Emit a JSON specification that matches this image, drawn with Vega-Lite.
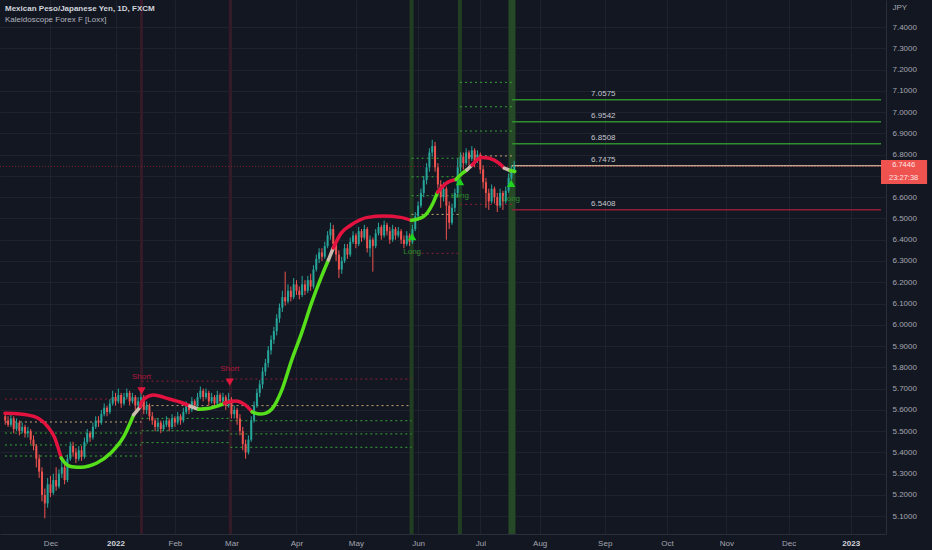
{
  "$schema": "https://vega.github.io/schema/vega-lite/v6.json",
  "width": 886,
  "height": 534,
  "autosize": {"type": "none"},
  "padding": {"left": 0, "top": 0, "right": 46, "bottom": 16},
  "background": "#131722",
  "title": {
    "text": "Mexican Peso/Japanese Yen, 1D, FXCM",
    "subtitle": "Kaleidoscope Forex F [Loxx]",
    "anchor": "start", "frame": "group", "orient": "top", "offset": -27, "dx": 5,
    "font": "Liberation Sans", "fontSize": 8, "fontWeight": "bold", "color": "#d1d4dc",
    "subtitleFont": "Liberation Sans", "subtitleFontSize": 8, "subtitleColor": "#b2b5be", "subtitlePadding": 3
  },
  "resolve": {"scale": {"color": "independent", "shape": "independent"}},
  "config": {
    "view": {"stroke": null},
    "axis": {"labelFont": "Liberation Sans", "titleFont": "Liberation Sans", "labelOverlap": false, "labelBound": false}
  },
  "datasets": {
    "candles": [
      {"i":-16,"o":5.57,"h":5.58,"l":5.53,"c":5.55},{"i":-15,"o":5.55,"h":5.57,"l":5.52,"c":5.53},{"i":-14,"o":5.53,"h":5.58,"l":5.52,"c":5.56},{"i":-13,"o":5.56,"h":5.57,"l":5.49,"c":5.51},
      {"i":-12,"o":5.51,"h":5.56,"l":5.50,"c":5.54},{"i":-11,"o":5.54,"h":5.55,"l":5.48,"c":5.50},{"i":-10,"o":5.50,"h":5.54,"l":5.49,"c":5.52},{"i":-9,"o":5.52,"h":5.53,"l":5.47,"c":5.49},
      {"i":-8,"o":5.49,"h":5.52,"l":5.47,"c":5.50},{"i":-7,"o":5.50,"h":5.51,"l":5.44,"c":5.46},{"i":-6,"o":5.46,"h":5.48,"l":5.41,"c":5.43},{"i":-5,"o":5.43,"h":5.44,"l":5.33,"c":5.37},
      {"i":-4,"o":5.37,"h":5.39,"l":5.28,"c":5.31},{"i":-3,"o":5.31,"h":5.33,"l":5.17,"c":5.20},{"i":-2,"o":5.20,"h":5.23,"l":5.09,"c":5.16},{"i":-1,"o":5.16,"h":5.28,"l":5.14,"c":5.25},
      {"i":0,"o":5.25,"h":5.29,"l":5.19,"c":5.21},{"i":1,"o":5.21,"h":5.30,"l":5.20,"c":5.27},{"i":2,"o":5.27,"h":5.33,"l":5.22,"c":5.24},{"i":3,"o":5.24,"h":5.32,"l":5.23,"c":5.30},
      {"i":4,"o":5.30,"h":5.36,"l":5.28,"c":5.33},{"i":5,"o":5.33,"h":5.35,"l":5.25,"c":5.27},{"i":6,"o":5.27,"h":5.39,"l":5.26,"c":5.37},{"i":7,"o":5.37,"h":5.45,"l":5.36,"c":5.43},
      {"i":8,"o":5.43,"h":5.45,"l":5.38,"c":5.40},{"i":9,"o":5.40,"h":5.42,"l":5.35,"c":5.37},{"i":10,"o":5.37,"h":5.43,"l":5.36,"c":5.41},{"i":11,"o":5.41,"h":5.43,"l":5.36,"c":5.38},
      {"i":12,"o":5.38,"h":5.47,"l":5.37,"c":5.45},{"i":13,"o":5.45,"h":5.51,"l":5.44,"c":5.49},{"i":14,"o":5.49,"h":5.50,"l":5.45,"c":5.47},{"i":15,"o":5.47,"h":5.54,"l":5.46,"c":5.52},
      {"i":16,"o":5.52,"h":5.57,"l":5.51,"c":5.55},{"i":17,"o":5.55,"h":5.57,"l":5.52,"c":5.54},{"i":18,"o":5.54,"h":5.60,"l":5.53,"c":5.58},{"i":19,"o":5.58,"h":5.63,"l":5.57,"c":5.61},
      {"i":20,"o":5.61,"h":5.62,"l":5.57,"c":5.59},{"i":21,"o":5.59,"h":5.65,"l":5.58,"c":5.63},{"i":22,"o":5.63,"h":5.69,"l":5.62,"c":5.66},{"i":23,"o":5.66,"h":5.68,"l":5.62,"c":5.64},
      {"i":24,"o":5.64,"h":5.70,"l":5.63,"c":5.67},{"i":25,"o":5.67,"h":5.68,"l":5.61,"c":5.63},{"i":26,"o":5.63,"h":5.68,"l":5.62,"c":5.66},{"i":27,"o":5.66,"h":5.70,"l":5.65,"c":5.68},
      {"i":28,"o":5.68,"h":5.69,"l":5.62,"c":5.64},{"i":29,"o":5.64,"h":5.68,"l":5.63,"c":5.66},{"i":30,"o":5.66,"h":5.67,"l":5.60,"c":5.62},{"i":31,"o":5.62,"h":5.66,"l":5.61,"c":5.64},
      {"i":32,"o":5.64,"h":5.68,"l":5.62,"c":5.66},{"i":33,"o":5.66,"h":5.67,"l":5.58,"c":5.60},{"i":34,"o":5.60,"h":5.64,"l":5.58,"c":5.62},{"i":35,"o":5.62,"h":5.63,"l":5.55,"c":5.57},
      {"i":36,"o":5.57,"h":5.59,"l":5.53,"c":5.55},{"i":37,"o":5.55,"h":5.56,"l":5.50,"c":5.52},{"i":38,"o":5.52,"h":5.56,"l":5.50,"c":5.54},{"i":39,"o":5.54,"h":5.55,"l":5.49,"c":5.51},
      {"i":40,"o":5.51,"h":5.55,"l":5.50,"c":5.53},{"i":41,"o":5.53,"h":5.57,"l":5.52,"c":5.55},{"i":42,"o":5.55,"h":5.56,"l":5.50,"c":5.52},{"i":43,"o":5.52,"h":5.58,"l":5.51,"c":5.56},
      {"i":44,"o":5.56,"h":5.57,"l":5.52,"c":5.54},{"i":45,"o":5.54,"h":5.59,"l":5.53,"c":5.57},{"i":46,"o":5.57,"h":5.58,"l":5.53,"c":5.55},{"i":47,"o":5.55,"h":5.61,"l":5.54,"c":5.59},
      {"i":48,"o":5.59,"h":5.64,"l":5.58,"c":5.62},{"i":49,"o":5.62,"h":5.63,"l":5.58,"c":5.60},{"i":50,"o":5.60,"h":5.66,"l":5.59,"c":5.64},{"i":51,"o":5.64,"h":5.65,"l":5.60,"c":5.62},
      {"i":52,"o":5.62,"h":5.68,"l":5.61,"c":5.66},{"i":53,"o":5.66,"h":5.71,"l":5.65,"c":5.69},{"i":54,"o":5.69,"h":5.70,"l":5.64,"c":5.66},{"i":55,"o":5.66,"h":5.70,"l":5.65,"c":5.68},
      {"i":56,"o":5.68,"h":5.69,"l":5.62,"c":5.64},{"i":57,"o":5.64,"h":5.68,"l":5.63,"c":5.66},{"i":58,"o":5.66,"h":5.67,"l":5.61,"c":5.63},{"i":59,"o":5.63,"h":5.69,"l":5.62,"c":5.67},
      {"i":60,"o":5.67,"h":5.68,"l":5.62,"c":5.64},{"i":61,"o":5.64,"h":5.68,"l":5.63,"c":5.66},{"i":62,"o":5.66,"h":5.67,"l":5.60,"c":5.62},{"i":63,"o":5.62,"h":5.68,"l":5.61,"c":5.65},
      {"i":64,"o":5.65,"h":5.66,"l":5.56,"c":5.58},{"i":65,"o":5.58,"h":5.62,"l":5.56,"c":5.60},{"i":66,"o":5.60,"h":5.61,"l":5.53,"c":5.56},{"i":67,"o":5.56,"h":5.58,"l":5.48,"c":5.50},
      {"i":68,"o":5.50,"h":5.52,"l":5.41,"c":5.44},{"i":69,"o":5.44,"h":5.46,"l":5.37,"c":5.40},{"i":70,"o":5.40,"h":5.48,"l":5.39,"c":5.46},{"i":71,"o":5.46,"h":5.57,"l":5.45,"c":5.55},
      {"i":72,"o":5.55,"h":5.64,"l":5.54,"c":5.62},{"i":73,"o":5.62,"h":5.70,"l":5.61,"c":5.68},{"i":74,"o":5.68,"h":5.74,"l":5.66,"c":5.72},{"i":75,"o":5.72,"h":5.80,"l":5.70,"c":5.78},
      {"i":76,"o":5.78,"h":5.84,"l":5.76,"c":5.82},{"i":77,"o":5.82,"h":5.90,"l":5.80,"c":5.88},{"i":78,"o":5.88,"h":5.95,"l":5.86,"c":5.93},{"i":79,"o":5.93,"h":5.99,"l":5.91,"c":5.97},
      {"i":80,"o":5.97,"h":6.05,"l":5.95,"c":6.03},{"i":81,"o":6.03,"h":6.10,"l":6.01,"c":6.08},{"i":82,"o":6.08,"h":6.16,"l":6.06,"c":6.13},{"i":83,"o":6.13,"h":6.25,"l":6.09,"c":6.11},
      {"i":84,"o":6.11,"h":6.19,"l":6.10,"c":6.16},{"i":85,"o":6.16,"h":6.18,"l":6.11,"c":6.13},{"i":86,"o":6.13,"h":6.22,"l":6.12,"c":6.19},{"i":87,"o":6.19,"h":6.21,"l":6.14,"c":6.16},
      {"i":88,"o":6.16,"h":6.18,"l":6.12,"c":6.14},{"i":89,"o":6.14,"h":6.23,"l":6.13,"c":6.19},{"i":90,"o":6.19,"h":6.21,"l":6.14,"c":6.16},{"i":91,"o":6.16,"h":6.23,"l":6.15,"c":6.21},
      {"i":92,"o":6.21,"h":6.24,"l":6.16,"c":6.18},{"i":93,"o":6.18,"h":6.28,"l":6.17,"c":6.26},{"i":94,"o":6.26,"h":6.33,"l":6.25,"c":6.31},{"i":95,"o":6.31,"h":6.36,"l":6.29,"c":6.34},
      {"i":96,"o":6.34,"h":6.36,"l":6.30,"c":6.32},{"i":97,"o":6.32,"h":6.39,"l":6.31,"c":6.37},{"i":98,"o":6.37,"h":6.44,"l":6.36,"c":6.42},{"i":99,"o":6.42,"h":6.48,"l":6.40,"c":6.45},
      {"i":100,"o":6.45,"h":6.47,"l":6.36,"c":6.38},{"i":101,"o":6.38,"h":6.40,"l":6.30,"c":6.33},{"i":102,"o":6.33,"h":6.35,"l":6.22,"c":6.26},{"i":103,"o":6.26,"h":6.32,"l":6.24,"c":6.30},
      {"i":104,"o":6.30,"h":6.38,"l":6.29,"c":6.36},{"i":105,"o":6.36,"h":6.38,"l":6.31,"c":6.33},{"i":106,"o":6.33,"h":6.41,"l":6.32,"c":6.39},{"i":107,"o":6.39,"h":6.44,"l":6.38,"c":6.42},
      {"i":108,"o":6.42,"h":6.43,"l":6.36,"c":6.38},{"i":109,"o":6.38,"h":6.46,"l":6.37,"c":6.44},{"i":110,"o":6.44,"h":6.45,"l":6.39,"c":6.41},{"i":111,"o":6.41,"h":6.47,"l":6.40,"c":6.45},
      {"i":112,"o":6.45,"h":6.46,"l":6.34,"c":6.36},{"i":113,"o":6.36,"h":6.42,"l":6.32,"c":6.40},{"i":114,"o":6.40,"h":6.41,"l":6.25,"c":6.37},{"i":115,"o":6.37,"h":6.45,"l":6.36,"c":6.43},
      {"i":116,"o":6.43,"h":6.48,"l":6.42,"c":6.46},{"i":117,"o":6.46,"h":6.47,"l":6.40,"c":6.42},{"i":118,"o":6.42,"h":6.49,"l":6.41,"c":6.47},{"i":119,"o":6.47,"h":6.48,"l":6.42,"c":6.44},
      {"i":120,"o":6.44,"h":6.46,"l":6.38,"c":6.40},{"i":121,"o":6.40,"h":6.47,"l":6.39,"c":6.45},{"i":122,"o":6.45,"h":6.46,"l":6.40,"c":6.42},{"i":123,"o":6.42,"h":6.46,"l":6.41,"c":6.44},
      {"i":124,"o":6.44,"h":6.45,"l":6.38,"c":6.40},{"i":125,"o":6.40,"h":6.42,"l":6.36,"c":6.38},{"i":126,"o":6.38,"h":6.44,"l":6.37,"c":6.42},{"i":127,"o":6.42,"h":6.43,"l":6.37,"c":6.39},
      {"i":128,"o":6.39,"h":6.47,"l":6.38,"c":6.45},{"i":129,"o":6.45,"h":6.53,"l":6.44,"c":6.51},{"i":130,"o":6.51,"h":6.58,"l":6.49,"c":6.56},{"i":131,"o":6.56,"h":6.64,"l":6.55,"c":6.62},
      {"i":132,"o":6.62,"h":6.70,"l":6.60,"c":6.68},{"i":133,"o":6.68,"h":6.76,"l":6.66,"c":6.74},{"i":134,"o":6.74,"h":6.83,"l":6.72,"c":6.81},{"i":135,"o":6.81,"h":6.87,"l":6.79,"c":6.84},
      {"i":136,"o":6.84,"h":6.86,"l":6.72,"c":6.74},{"i":137,"o":6.74,"h":6.76,"l":6.64,"c":6.66},{"i":138,"o":6.66,"h":6.68,"l":6.55,"c":6.60},{"i":139,"o":6.60,"h":6.67,"l":6.58,"c":6.64},
      {"i":140,"o":6.64,"h":6.65,"l":6.40,"c":6.56},{"i":141,"o":6.56,"h":6.58,"l":6.45,"c":6.48},{"i":142,"o":6.48,"h":6.57,"l":6.47,"c":6.55},{"i":143,"o":6.55,"h":6.64,"l":6.53,"c":6.62},
      {"i":144,"o":6.62,"h":6.78,"l":6.60,"c":6.74},{"i":145,"o":6.74,"h":6.81,"l":6.72,"c":6.79},{"i":146,"o":6.79,"h":6.81,"l":6.73,"c":6.76},{"i":147,"o":6.76,"h":6.83,"l":6.75,"c":6.81},
      {"i":148,"o":6.81,"h":6.82,"l":6.75,"c":6.78},{"i":149,"o":6.78,"h":6.84,"l":6.77,"c":6.82},{"i":150,"o":6.82,"h":6.83,"l":6.74,"c":6.77},{"i":151,"o":6.77,"h":6.82,"l":6.76,"c":6.80},
      {"i":152,"o":6.80,"h":6.81,"l":6.71,"c":6.73},{"i":153,"o":6.73,"h":6.75,"l":6.64,"c":6.67},{"i":154,"o":6.67,"h":6.69,"l":6.55,"c":6.62},{"i":155,"o":6.62,"h":6.64,"l":6.54,"c":6.58},
      {"i":156,"o":6.58,"h":6.66,"l":6.57,"c":6.64},{"i":157,"o":6.64,"h":6.65,"l":6.57,"c":6.60},{"i":158,"o":6.60,"h":6.62,"l":6.53,"c":6.56},{"i":159,"o":6.56,"h":6.64,"l":6.55,"c":6.62},
      {"i":160,"o":6.62,"h":6.63,"l":6.54,"c":6.58},{"i":161,"o":6.58,"h":6.65,"l":6.57,"c":6.63},{"i":162,"o":6.63,"h":6.71,"l":6.62,"c":6.69},{"i":163,"o":6.69,"h":6.75,"l":6.68,"c":6.72},
      {"i":164,"o":6.72,"h":6.77,"l":6.71,"c":6.745}
    ],
    "trend": [
      {"i":-16.1,"p":5.584,"s":1,"k":"r"},{"i":-10.8,"p":5.581,"s":1,"k":"r"},{"i":-5.6,"p":5.568,"s":1,"k":"r"},{"i":-1.0,"p":5.521,"s":1,"k":"r"},{"i":1.4,"p":5.472,"s":1,"k":"r"},{"i":3.8,"p":5.374,"s":1,"k":"r"},
      {"i":3.8,"p":5.374,"s":2,"k":"g"},{"i":5.9,"p":5.341,"s":2,"k":"g"},{"i":8.4,"p":5.331,"s":2,"k":"g"},{"i":10.8,"p":5.330,"s":2,"k":"g"},{"i":13.6,"p":5.336,"s":2,"k":"g"},{"i":16.4,"p":5.350,"s":2,"k":"g"},{"i":21.3,"p":5.397,"s":2,"k":"g"},{"i":25.9,"p":5.474,"s":2,"k":"g"},{"i":29.4,"p":5.576,"s":2,"k":"g"},
      {"i":29.4,"p":5.576,"s":3,"k":"w"},{"i":31.8,"p":5.615,"s":3,"k":"w"},
      {"i":31.8,"p":5.615,"s":4,"k":"r"},{"i":32.2,"p":5.638,"s":4,"k":"r"},{"i":36.4,"p":5.670,"s":4,"k":"r"},{"i":42.3,"p":5.650,"s":4,"k":"r"},{"i":45.8,"p":5.637,"s":4,"k":"r"},{"i":49.3,"p":5.618,"s":4,"k":"r"},
      {"i":49.3,"p":5.618,"s":5,"k":"w"},{"i":52.4,"p":5.603,"s":5,"k":"w"},
      {"i":52.4,"p":5.603,"s":6,"k":"g"},{"i":55.6,"p":5.606,"s":6,"k":"g"},{"i":58.4,"p":5.615,"s":6,"k":"g"},{"i":61.5,"p":5.631,"s":6,"k":"g"},
      {"i":61.5,"p":5.631,"s":7,"k":"r"},{"i":65.4,"p":5.642,"s":7,"k":"r"},{"i":68.9,"p":5.623,"s":7,"k":"r"},{"i":71.3,"p":5.591,"s":7,"k":"r"},
      {"i":71.3,"p":5.591,"s":8,"k":"g"},{"i":74.1,"p":5.580,"s":8,"k":"g"},{"i":76.2,"p":5.585,"s":8,"k":"g"},{"i":78.3,"p":5.604,"s":8,"k":"g"},{"i":81.8,"p":5.693,"s":8,"k":"g"},{"i":85.3,"p":5.834,"s":8,"k":"g"},{"i":88.8,"p":5.961,"s":8,"k":"g"},{"i":92.3,"p":6.102,"s":8,"k":"g"},{"i":95.8,"p":6.225,"s":8,"k":"g"},{"i":98.3,"p":6.305,"s":8,"k":"g"},
      {"i":98.3,"p":6.305,"s":9,"k":"w"},{"i":100.0,"p":6.361,"s":9,"k":"w"},
      {"i":100.0,"p":6.361,"s":10,"k":"r"},{"i":102.8,"p":6.431,"s":10,"k":"r"},{"i":106.3,"p":6.469,"s":10,"k":"r"},{"i":112.2,"p":6.505,"s":10,"k":"r"},{"i":117.8,"p":6.511,"s":10,"k":"r"},{"i":123.8,"p":6.505,"s":10,"k":"r"},{"i":127.6,"p":6.491,"s":10,"k":"r"},
      {"i":127.6,"p":6.491,"s":11,"k":"g"},{"i":131.8,"p":6.508,"s":11,"k":"g"},{"i":135.3,"p":6.573,"s":11,"k":"g"},{"i":136.9,"p":6.624,"s":11,"k":"g"},
      {"i":136.9,"p":6.624,"s":12,"k":"r"},{"i":140.2,"p":6.668,"s":12,"k":"r"},{"i":143.4,"p":6.683,"s":12,"k":"r"},
      {"i":143.4,"p":6.683,"s":13,"k":"g"},{"i":145.8,"p":6.714,"s":13,"k":"g"},{"i":147.2,"p":6.728,"s":13,"k":"g"},
      {"i":147.2,"p":6.728,"s":14,"k":"w"},{"i":149.1,"p":6.751,"s":14,"k":"w"},
      {"i":149.1,"p":6.751,"s":15,"k":"r"},{"i":152.4,"p":6.787,"s":15,"k":"r"},{"i":155.2,"p":6.783,"s":15,"k":"r"},{"i":158.7,"p":6.759,"s":15,"k":"r"},{"i":160.5,"p":6.736,"s":15,"k":"r"},
      {"i":160.5,"p":6.736,"s":16,"k":"w"},{"i":162.6,"p":6.725,"s":16,"k":"w"},
      {"i":162.6,"p":6.725,"s":17,"k":"g"},{"i":164.2,"p":6.721,"s":17,"k":"g"}
    ],
    "levels": [
      {"a":-16.1,"b":32.2,"p":5.651,"k":"r"},{"a":-16.1,"b":32.2,"p":5.543,"k":"o"},{"a":-16.1,"b":32.2,"p":5.491,"k":"g"},{"a":-16.1,"b":32.2,"p":5.435,"k":"g"},{"a":-16.1,"b":32.2,"p":5.383,"k":"g"},
      {"a":32.2,"b":63.6,"p":5.735,"k":"r"},{"a":32.2,"b":127.7,"p":5.620,"k":"o"},{"a":32.2,"b":63.6,"p":5.560,"k":"g"},{"a":32.2,"b":63.6,"p":5.502,"k":"g"},{"a":32.2,"b":63.6,"p":5.446,"k":"g"},
      {"a":63.6,"b":127.7,"p":5.745,"k":"r"},{"a":63.6,"b":127.7,"p":5.549,"k":"g"},{"a":63.6,"b":127.7,"p":5.487,"k":"g"},{"a":63.6,"b":127.7,"p":5.424,"k":"g"},
      {"a":127.7,"b":144.8,"p":6.783,"k":"g"},{"a":127.7,"b":144.8,"p":6.696,"k":"g"},{"a":127.7,"b":144.8,"p":6.607,"k":"g"},{"a":127.7,"b":144.8,"p":6.519,"k":"o"},{"a":127.7,"b":144.8,"p":6.336,"k":"r"},
      {"a":144.8,"b":163.2,"p":7.140,"k":"g"},{"a":144.8,"b":163.2,"p":7.025,"k":"g"},{"a":144.8,"b":163.2,"p":6.911,"k":"g"},{"a":144.8,"b":163.2,"p":6.794,"k":"o"},{"a":144.8,"b":163.2,"p":6.566,"k":"r"}
    ],
    "targets": [
      {"a":163.2,"b":293.7,"p":7.0575,"k":"g","t":"7.0575"},
      {"a":163.2,"b":293.7,"p":6.9542,"k":"g","t":"6.9542"},
      {"a":163.2,"b":293.7,"p":6.8508,"k":"g","t":"6.8508"},
      {"a":163.2,"b":293.7,"p":6.7475,"k":"o","t":"6.7475"},
      {"a":163.2,"b":293.7,"p":6.5408,"k":"r","t":"6.5408"}
    ],
    "bands": [
      {"i":32.2,"k":"s"},{"i":63.6,"k":"s"},{"i":127.7,"k":"l"},{"i":144.8,"k":"l"},{"i":163.2,"k":"L"}
    ],
    "signals": [
      {"i":32.2,"p":5.689,"tp":5.754,"k":"down","t":"Short"},
      {"i":63.4,"p":5.731,"tp":5.792,"k":"down","t":"Short"},
      {"i":127.9,"p":6.414,"tp":6.342,"k":"up","t":"Long"},
      {"i":144.8,"p":6.673,"tp":6.606,"k":"up","t":"Long"},
      {"i":162.9,"p":6.665,"tp":6.591,"k":"up","t":"Long"}
    ],
    "last": [
      {"p":6.7446,"a":293.7,"b":310,"top":6.775,"bot":6.662,"lx":301.7,"t1":"6.7446","t2":"23:27:38","p1":6.7495,"p2":6.690}
    ]
  },
  "layer": [
    {
      "data": {"name": "bands"},
      "transform": [{"filter": "datum.k == 's'"}],
      "mark": {"type": "rule", "color": "#361a27", "strokeWidth": 3},
      "encoding": {
        "x": {
          "field": "i", "type": "quantitative",
          "scale": {"domain": [-16.08, 293.7], "nice": false, "zero": false},
          "axis": {
            "title": null,
            "values": [0,23,44,64,87,108,130,152,173,196,218,239,261,283],
            "tickCount": 40,
            "labelExpr": "['Dec','2022','Feb','Mar','Apr','May','Jun','Jul','Aug','Sep','Oct','Nov','Dec','2023'][indexof([0,23,44,64,87,108,130,152,173,196,218,239,261,283], datum.value)]",
            "grid": true, "gridColor": "#1e222d", "gridWidth": 1,
            "domain": true, "domainColor": "#2a2e39",
            "ticks": false, "labelPadding": 5, "labelFontSize": 8,
            "labelColor": {"condition": {"test": "datum.value == 23 || datum.value == 283", "value": "#d1d4dc"}, "value": "#a3a6af"},
            "labelFontWeight": {"condition": {"test": "datum.value == 23 || datum.value == 283", "value": "bold"}, "value": "normal"},
            "labelOverlap": false, "labelFlush": false
          }
        }
      }
    },
    {
      "data": {"name": "bands"},
      "transform": [{"filter": "datum.k == 'l'"}],
      "mark": {"type": "rule", "color": "#213d22", "strokeWidth": 4},
      "encoding": {"x": {"field": "i", "type": "quantitative"}}
    },
    {
      "data": {"name": "bands"},
      "transform": [{"filter": "datum.k == 'L'"}],
      "mark": {"type": "rule", "color": "#264a27", "strokeWidth": 7},
      "encoding": {"x": {"field": "i", "type": "quantitative"}}
    },
    {
      "data": {"name": "levels"},
      "mark": {"type": "rule", "strokeDash": [2, 3], "strokeWidth": 1, "clip": true},
      "encoding": {
        "x": {"field": "a", "type": "quantitative"},
        "x2": {"field": "b"},
        "y": {
          "field": "p", "type": "quantitative",
          "scale": {"domain": [5.0164, 7.527], "nice": false, "zero": false},
          "axis": {
            "orient": "right", "title": "JPY", "titleAngle": 0, "titleX": 6, "titleY": 3,
            "titleAlign": "left", "titleBaseline": "top", "titleColor": "#a3a6af",
            "titleFontSize": 8, "titleFontWeight": "normal",
            "values": [5.1,5.2,5.3,5.4,5.5,5.6,5.7,5.8,5.9,6.0,6.1,6.2,6.3,6.4,6.5,6.6,6.7,6.8,6.9,7.0,7.1,7.2,7.3,7.4],
            "tickCount": 40,
            "format": ".4f",
            "labelExpr": "abs(datum.value - 6.7) < 0.001 ? '' : datum.label",
            "grid": true, "gridColor": "#1e222d", "gridWidth": 1,
            "domain": true, "domainColor": "#2a2e39", "ticks": false,
            "labelPadding": 6, "labelFontSize": 8, "labelColor": "#a3a6af", "labelOverlap": false, "labelFlush": false
          }
        },
        "color": {"field": "k", "type": "nominal", "scale": {"domain": ["r", "o", "g"], "range": ["#8e1e36", "#c9a772", "#36a636"]}, "legend": null}
      }
    },
    {
      "data": {"name": "targets"},
      "mark": {"type": "rule", "strokeWidth": 1.5},
      "encoding": {
        "x": {"field": "a", "type": "quantitative"},
        "x2": {"field": "b"},
        "y": {"field": "p", "type": "quantitative"},
        "color": {"field": "k", "type": "nominal", "scale": {"domain": ["r", "o", "g"], "range": ["#8e1e36", "#c9a88e", "#2f8f2f"]}, "legend": null}
      }
    },
    {
      "data": {"name": "last"},
      "mark": {"type": "rule", "strokeDash": [1, 2], "strokeWidth": 1, "color": "#7a2433"},
      "encoding": {"y": {"field": "p", "type": "quantitative"}}
    },
    {
      "data": {"name": "candles"},
      "mark": {"type": "rule", "strokeWidth": 1},
      "encoding": {
        "x": {"field": "i", "type": "quantitative"},
        "y": {"field": "l", "type": "quantitative"},
        "y2": {"field": "h"},
        "color": {"condition": {"test": "datum.c >= datum.o", "value": "#26a69a"}, "value": "#ef5350"}
      }
    },
    {
      "data": {"name": "candles"},
      "mark": {"type": "bar", "width": 2},
      "encoding": {
        "x": {"field": "i", "type": "quantitative"},
        "y": {"field": "o", "type": "quantitative"},
        "y2": {"field": "c"},
        "color": {"condition": {"test": "datum.c >= datum.o", "value": "#26a69a"}, "value": "#ef5350"}
      }
    },
    {
      "data": {"name": "trend"},
      "mark": {"type": "line", "strokeWidth": 3.5, "interpolate": "monotone", "strokeCap": "round"},
      "encoding": {
        "x": {"field": "i", "type": "quantitative"},
        "y": {"field": "p", "type": "quantitative"},
        "detail": {"field": "s", "type": "nominal"},
        "color": {"field": "k", "type": "nominal", "scale": {"domain": ["r", "g", "w"], "range": ["#e3123f", "#55e01b", "#c9bcae"]}, "legend": null}
      }
    },
    {
      "data": {"name": "signals"},
      "mark": {"type": "point", "filled": true, "size": 70, "opacity": 1},
      "encoding": {
        "x": {"field": "i", "type": "quantitative"},
        "y": {"field": "p", "type": "quantitative"},
        "shape": {"field": "k", "type": "nominal", "scale": {"domain": ["up", "down"], "range": ["triangle-up", "triangle-down"]}, "legend": null},
        "color": {"field": "k", "type": "nominal", "scale": {"domain": ["up", "down"], "range": ["#1fd31f", "#e0163c"]}, "legend": null}
      }
    },
    {
      "data": {"name": "signals"},
      "mark": {"type": "text", "fontSize": 8, "font": "Liberation Sans", "baseline": "middle", "align": "center"},
      "encoding": {
        "x": {"field": "i", "type": "quantitative"},
        "y": {"field": "tp", "type": "quantitative"},
        "text": {"field": "t"},
        "color": {"field": "k", "type": "nominal", "scale": {"domain": ["up", "down"], "range": ["#2e8b2e", "#b0183c"]}, "legend": null}
      }
    },
    {
      "data": {"name": "targets"},
      "mark": {"type": "text", "fontSize": 8, "font": "Liberation Sans", "baseline": "bottom", "align": "center", "dy": -2, "color": "#c3c6ce"},
      "encoding": {
        "x": {"datum": 195.5, "type": "quantitative"},
        "y": {"field": "p", "type": "quantitative"},
        "text": {"field": "t"}
      }
    },
    {
      "data": {"name": "last"},
      "mark": {"type": "rect", "color": "#ef5350", "clip": false},
      "encoding": {
        "x": {"field": "a", "type": "quantitative"},
        "x2": {"field": "b"},
        "y": {"field": "top", "type": "quantitative"},
        "y2": {"field": "bot"}
      }
    },
    {
      "data": {"name": "last"},
      "mark": {"type": "text", "fontSize": 7.5, "font": "Liberation Sans", "baseline": "middle", "align": "center", "color": "#ffe5e5"},
      "encoding": {
        "x": {"field": "lx", "type": "quantitative"},
        "y": {"field": "p1", "type": "quantitative"},
        "text": {"field": "t1"}
      }
    },
    {
      "data": {"name": "last"},
      "mark": {"type": "text", "fontSize": 7.5, "font": "Liberation Sans", "baseline": "middle", "align": "center", "color": "#ffe5e5"},
      "encoding": {
        "x": {"field": "lx", "type": "quantitative"},
        "y": {"field": "p2", "type": "quantitative"},
        "text": {"field": "t2"}
      }
    }
  ]
}
